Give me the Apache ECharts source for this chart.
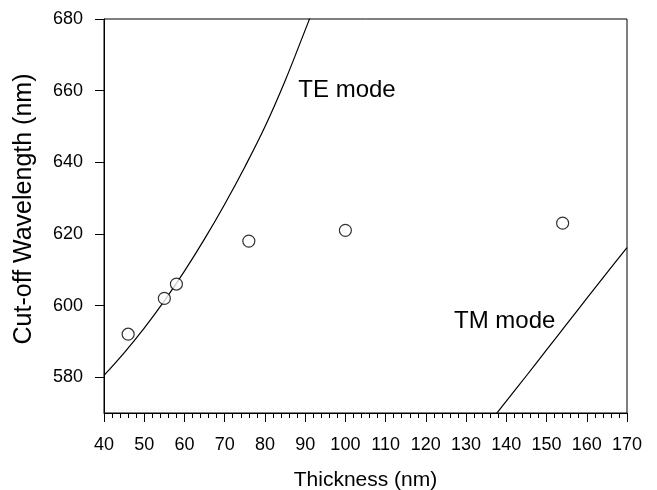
<!DOCTYPE html>
<html>
<head>
  <meta charset="UTF-8">
  <title>Cut-off wavelength vs thickness</title>
  <script src="https://cdn.jsdelivr.net/npm/echarts@6/dist/echarts.min.js"></script>
  <style>
    html, body { margin: 0; padding: 0; background: #fff; }
    #chart { width: 657px; height: 490px; }
  </style>
</head>
<body>
  <div id="chart"></div>
  <script>
    // measured points (thickness nm, cut-off wavelength nm)
    const measured = [[46, 592], [55, 602], [58, 606], [76, 618], [100, 621], [154, 623]];

    // TE mode curve
    const teCurve = [
      [40, 580.5], [45, 586.8], [50, 593.7], [55, 601.3], [60, 609.6], [65, 618.6],
      [70, 628.3], [75, 638.7], [80, 649.9], [85, 662.7], [90, 676.9], [92, 682.7]
    ];

    // TM mode curve
    const tmCurve = [
      [135, 566.3], [140, 573.3], [145, 580.4], [150, 587.6], [155, 594.8],
      [160, 602], [165, 609.1], [170, 616.2]
    ];

    // curve labels, centre in data units
    const labelNames = ['TE mode', 'TM mode'];
    const labelPos = [[100.4, 660.0], [139.6, 595.6]];

    const yTicks = [580, 600, 620, 640, 660, 680];

    const font = 'Liberation Sans, Arial, sans-serif';
    const chart = echarts.init(document.getElementById('chart'));
    chart.setOption({
      animation: false,
      backgroundColor: '#fff',
      grid: {
        left: 104, right: 30, top: 19, bottom: 77,
        outerBoundsMode: 'none', containLabel: false,
        show: true, borderColor: '#000', borderWidth: 1
      },
      xAxis: {
        type: 'value', min: 40, max: 170, interval: 10,
        name: 'Thickness (nm)', nameLocation: 'middle', nameGap: 57,
        nameTextStyle: { color: '#000', fontSize: 21, fontFamily: font },
        axisLine: { show: true, onZero: false, lineStyle: { color: '#000', width: 1 } },
        axisTick: { show: true, length: 9, lineStyle: { color: '#000' } },
        minorTick: { show: true, splitNumber: 5, length: 5, lineStyle: { color: '#000' } },
        axisLabel: { color: '#000', fontSize: 18, fontFamily: font, margin: 23 },
        splitLine: { show: false }
      },
      yAxis: {
        type: 'value', min: 570, max: 680,
        name: 'Cut-off Wavelength (nm)', nameLocation: 'middle', nameGap: 67,
        nameTextStyle: { color: '#000', fontSize: 25, fontFamily: font, padding: [0, 0, 0, 14] },
        axisLine: { show: true, onZero: false, lineStyle: { color: '#000', width: 1 } },
        axisTick: { show: true, length: 9, customValues: yTicks, lineStyle: { color: '#000' } },
        axisLabel: { color: '#000', fontSize: 18, fontFamily: font, margin: 21, customValues: yTicks },
        splitLine: { show: false }
      },
      series: [
        {
          name: 'TE', type: 'line', data: teCurve, smooth: 0.4, symbol: 'none',
          lineStyle: { color: '#000', width: 1.2 }, silent: true
        },
        {
          name: 'TM', type: 'line', data: tmCurve, smooth: 0.3, symbol: 'none',
          lineStyle: { color: '#000', width: 1.2 }, silent: true
        },
        {
          name: 'measured', type: 'scatter', data: measured, symbol: 'circle', symbolSize: 12,
          itemStyle: { color: '#fff', borderColor: '#000', borderWidth: 1.2 }, z: 5
        }
      ]
    });

    // curve names as text, positioned through the axes
    chart.setOption({
      graphic: labelNames.map((t, i) => {
        const p = chart.convertToPixel({ gridIndex: 0 }, labelPos[i]);
        return {
          type: 'text', x: p[0], y: p[1], silent: true,
          style: {
            text: t, fill: '#000', fontSize: 24, fontFamily: font,
            align: 'center', verticalAlign: 'middle'
          }
        };
      })
    });
  </script>
</body>
</html>
